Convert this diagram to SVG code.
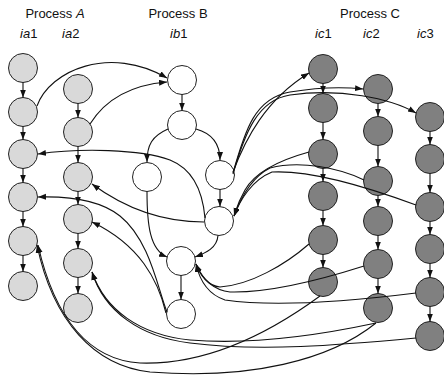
<svg xmlns="http://www.w3.org/2000/svg" width="444" height="379" viewBox="0 0 444 379">
<style>
text{font-family:"Liberation Sans",Arial,sans-serif;font-size:13px;fill:#111}
.i{font-style:italic}
circle{stroke:#222;stroke-width:1}
.a circle{fill:#d9d9d9}
.b circle{fill:#fff}
.c circle{fill:#808080}
#edges path{fill:none;stroke:#111;stroke-width:1.1;marker-end:url(#ar)}
</style>
<defs>
<marker id="ar" markerUnits="userSpaceOnUse" markerWidth="9" markerHeight="7" refX="8" refY="3" orient="auto">
<path d="M0,0 L8,3 L0,6 z" fill="#111"/>
</marker>
</defs>
<g id="labels">
<text x="55" y="18" text-anchor="middle">Process <tspan class="i">A</tspan></text>
<text x="20" y="38"><tspan class="i">ia</tspan>1</text>
<text x="62" y="38"><tspan class="i">ia</tspan>2</text>
<text x="178" y="18" text-anchor="middle">Process B</text>
<text x="170" y="38"><tspan class="i">ib</tspan>1</text>
<text x="370" y="18" text-anchor="middle">Process C</text>
<text x="315" y="38"><tspan class="i">ic</tspan>1</text>
<text x="363" y="38"><tspan class="i">ic</tspan>2</text>
<text x="417" y="38"><tspan class="i">ic</tspan>3</text>
</g>
<g class="a">
<g id="ia1-1"><circle cx="23" cy="68" r="14.5"/></g>
<g id="ia1-2"><circle cx="23" cy="112" r="14.5"/></g>
<g id="ia1-3"><circle cx="23" cy="154" r="14.5"/></g>
<g id="ia1-4"><circle cx="23" cy="197" r="14.5"/></g>
<g id="ia1-5"><circle cx="23" cy="241" r="14.5"/></g>
<g id="ia1-6"><circle cx="23" cy="286" r="14.5"/></g>
<g id="ia2-1"><circle cx="78" cy="89" r="14.5"/></g>
<g id="ia2-2"><circle cx="78" cy="132" r="14.5"/></g>
<g id="ia2-3"><circle cx="78" cy="177" r="14.5"/></g>
<g id="ia2-4"><circle cx="78" cy="219" r="14.5"/></g>
<g id="ia2-5"><circle cx="78" cy="263" r="14.5"/></g>
<g id="ia2-6"><circle cx="78" cy="308" r="14.5"/></g>
</g>
<g class="b">
<g id="ib1-1"><circle cx="182" cy="80" r="14.5"/></g>
<g id="ib1-2"><circle cx="182" cy="125" r="14.5"/></g>
<g id="ib1-3"><circle cx="147" cy="177" r="14.5"/></g>
<g id="ib1-4"><circle cx="220" cy="175" r="14.5"/></g>
<g id="ib1-5"><circle cx="219" cy="221" r="14.5"/></g>
<g id="ib1-6"><circle cx="181" cy="261" r="14.5"/></g>
<g id="ib1-7"><circle cx="181" cy="314" r="14.5"/></g>
</g>
<g class="c">
<g id="ic1-1"><circle cx="323" cy="69" r="14.5"/></g>
<g id="ic1-2"><circle cx="323" cy="108" r="14.5"/></g>
<g id="ic1-3"><circle cx="323" cy="154" r="14.5"/></g>
<g id="ic1-4"><circle cx="323" cy="196" r="14.5"/></g>
<g id="ic1-5"><circle cx="323" cy="240" r="14.5"/></g>
<g id="ic1-6"><circle cx="323" cy="282" r="14.5"/></g>
<g id="ic2-1"><circle cx="378" cy="89" r="14.5"/></g>
<g id="ic2-2"><circle cx="378" cy="131" r="14.5"/></g>
<g id="ic2-3"><circle cx="378" cy="181" r="14.5"/></g>
<g id="ic2-4"><circle cx="378" cy="221" r="14.5"/></g>
<g id="ic2-5"><circle cx="378" cy="264" r="14.5"/></g>
<g id="ic2-6"><circle cx="378" cy="308" r="14.5"/></g>
<g id="ic3-1"><circle cx="430" cy="117" r="14.5"/></g>
<g id="ic3-2"><circle cx="430" cy="159" r="14.5"/></g>
<g id="ic3-3"><circle cx="430" cy="207" r="14.5"/></g>
<g id="ic3-4"><circle cx="430" cy="249" r="14.5"/></g>
<g id="ic3-5"><circle cx="430" cy="292" r="14.5"/></g>
<g id="ic3-6"><circle cx="430" cy="336" r="14.5"/></g>
</g>
<g id="edges">
<path d="M23,82.5 L23,97.5"/><path d="M23,126.5 L23,139.5"/><path d="M23,168.5 L23,182.5"/><path d="M23,211.5 L23,226.5"/><path d="M23,255.5 L23,271.5"/>
<path d="M78,103.5 L78,117.5"/><path d="M78,146.5 L78,162.5"/><path d="M78,191.5 L78,204.5"/><path d="M78,233.5 L78,248.5"/><path d="M78,277.5 L78,293.5"/>
<path d="M323,83.5 L323,93.5"/><path d="M323,122.5 L323,139.5"/><path d="M323,168.5 L323,181.5"/><path d="M323,210.5 L323,225.5"/><path d="M323,254.5 L323,267.5"/>
<path d="M378,103.5 L378,116.5"/><path d="M378,145.5 L378,166.5"/><path d="M378,195.5 L378,206.5"/><path d="M378,235.5 L378,249.5"/><path d="M378,278.5 L378,293.5"/>
<path d="M430,131.5 L430,144.5"/><path d="M430,173.5 L430,192.5"/><path d="M430,221.5 L430,234.5"/><path d="M430,263.5 L430,277.5"/><path d="M430,306.5 L430,321.5"/>
<path d="M182,94.5 L182,110.5"/>
<path d="M168,129 C152,136 147,145 147,162"/>
<path d="M196,129 C214,134 220,145 220,160"/>
<path d="M220,189.5 L220,206.5"/>
<path d="M218,235.5 C217,248 206,253 195,257"/>
<path d="M147,191.5 C147,225 150,250 167,257"/>
<path d="M181,275.5 L181,299.5"/>
<path d="M37,106 C50,70 110,45 167,78"/>
<path d="M90,124 C105,100 130,85 167,82"/>
<path d="M205,218 C203,195 195,170 170,160 C140,149 80,148 38,154"/>
<path d="M204,222 C170,222 130,212 92,184"/>
<path d="M167,312 C158,290 150,240 120,216 C100,200 70,196 38,197"/>
<path d="M166,313 C158,280 140,245 92,222"/>
<path d="M233,172 C245,140 265,100 309,73"/>
<path d="M233,173 C245,130 255,98 290,92 C320,87 345,87 363,89"/>
<path d="M233,174 C245,132 258,100 290,95 C340,88 390,98 416,113"/>
<path d="M309,152 C280,160 255,172 245,190 C238,202 236,210 234,216"/>
<path d="M364,180 C340,168 300,160 270,168 C250,178 240,200 234,216"/>
<path d="M416,205 C370,188 310,170 272,172 C252,180 240,200 234,216"/>
<path d="M309,244 C285,265 250,285 220,287 C208,286 200,275 196,264"/>
<path d="M364,266 C320,280 270,293 230,292 C212,290 202,278 196,264"/>
<path d="M416,293 C360,300 280,308 225,300 C210,295 200,282 196,264"/>
<path d="M320,296 C260,340 200,365 140,363 C90,360 55,320 38,245"/>
<path d="M376,323 C330,360 250,380 150,372 C95,366 53,322 37,245"/>
<path d="M376,323 C320,335 250,345 190,340 C140,335 105,310 92,272"/>
<path d="M416,338 C340,345 260,352 190,343 C140,337 104,311 92,272"/>
</g>
</svg>
